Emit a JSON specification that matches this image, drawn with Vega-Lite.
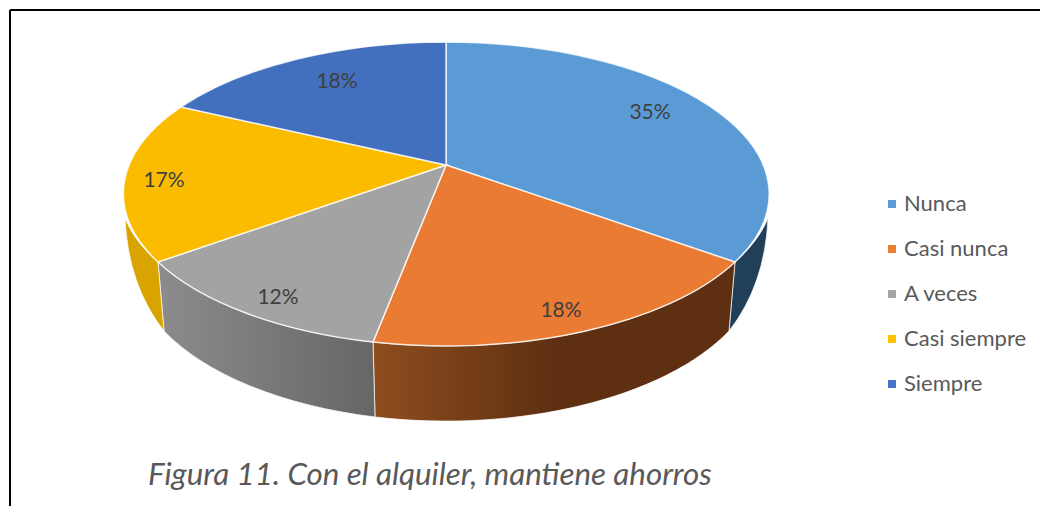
{
  "$schema": "https://vega.github.io/schema/vega-lite/v6.json",
  "description": "Perspective pie. Vega-Lite arcs are circular only, so the elliptical wedges and side walls are hand-drawn symbol paths (one per category) around the shared apex at datum (0,0).",
  "width": 1030,
  "height": 496,
  "autosize": "none",
  "padding": {"left": 10, "top": 10, "right": 0, "bottom": 0},
  "background": "#ffffff",
  "config": {"view": {"stroke": null}, "font": "Lato"},
  "title": {
    "text": "Figura 11. Con el alquiler, mantiene ahorros",
    "orient": "top", "anchor": "start", "frame": "group",
    "dx": 138, "dy": 482, "offset": 0,
    "font": "Lato", "fontSize": 31.3, "fontStyle": "italic", "fontWeight": "normal", "color": "#595959"
  },
  "data": {"values": [
    {"Categoria": "Nunca", "valor": 0.35},
    {"Categoria": "Casi nunca", "valor": 0.18},
    {"Categoria": "A veces", "valor": 0.12},
    {"Categoria": "Casi siempre", "valor": 0.17},
    {"Categoria": "Siempre", "valor": 0.18}
  ]},
  "encoding": {
    "x": {"datum": 0, "type": "quantitative", "scale": {"domain": [-436, 594]}, "axis": null},
    "y": {"datum": 0, "type": "quantitative", "scale": {"domain": [-341, 155]}, "axis": null}
  },
  "resolve": {"scale": {"color": "independent", "shape": "independent"}, "legend": {"color": "independent", "shape": "independent"}},
  "layer": [
    {
      "data": {"values": [{"borde": "izquierdo"}]},
      "mark": {"type": "rule", "color": "#000000", "strokeWidth": 2},
      "encoding": {"x": {"value": 0}, "y": {"value": 0}, "y2": {"value": 496}}
    },
    {
      "data": {"values": [{"borde": "superior"}]},
      "mark": {"type": "rule", "color": "#000000", "strokeWidth": 2},
      "encoding": {"x": {"value": 0}, "x2": {"value": 1030}, "y": {"value": 0}}
    },
    {
      "transform": [{"filter": "datum.Categoria === 'Nunca'"}],
      "mark": {"type": "point", "filled": true, "opacity": 1, "size": 4, "fill": "#223F59", "stroke": "#ffffff", "strokeWidth": 1, "strokeOpacity": 0.7,
        "shape": "M322,53A323.5,152,0,0,1,289,97L283,166Q319,120,322,53Z"}
    },
    {
      "transform": [{"filter": "datum.Categoria === 'Casi nunca'"}],
      "mark": {"type": "point", "filled": true, "opacity": 1, "size": 4, "stroke": "#ffffff", "strokeWidth": 1, "strokeOpacity": 0.7,
        "fill": {"gradient": "linear", "x1": 0, "y1": 0, "x2": 1, "y2": 0, "stops": [
          {"offset": 0, "color": "#8F4D1E"}, {"offset": 0.5, "color": "#5E3011"}, {"offset": 1, "color": "#5E3011"}
        ]},
        "shape": "M289,97A323.5,152,0,0,1,-73,177L-71,252A315,160,0,0,0,283,166Z"}
    },
    {
      "transform": [{"filter": "datum.Categoria === 'A veces'"}],
      "mark": {"type": "point", "filled": true, "opacity": 1, "size": 4, "stroke": "#ffffff", "strokeWidth": 1, "strokeOpacity": 0.7,
        "fill": {"gradient": "linear", "x1": 0, "y1": 0, "x2": 1, "y2": 0, "stops": [
          {"offset": 0, "color": "#8C8C8C"}, {"offset": 1, "color": "#666666"}
        ]},
        "shape": "M-73,177A323.5,152,0,0,1,-288,97L-282,166A315,160,0,0,0,-71,252Z"}
    },
    {
      "transform": [{"filter": "datum.Categoria === 'Casi siempre'"}],
      "mark": {"type": "point", "filled": true, "opacity": 1, "size": 4, "fill": "#D9A400", "stroke": "#ffffff", "strokeWidth": 1, "strokeOpacity": 0.7,
        "shape": "M-288,97A323.5,152,0,0,1,-321,53Q-318,120,-282,166Z"}
    },
    {
      "mark": {"type": "point", "filled": true, "opacity": 1, "size": 4, "stroke": "#ffffff", "strokeWidth": 1.5, "strokeOpacity": 0.8},
      "encoding": {
        "shape": {"field": "Categoria", "type": "nominal", "legend": null, "scale": {
          "domain": ["Nunca", "Casi nunca", "A veces", "Casi siempre", "Siempre"],
          "range": [
            "M0,0L0,-123A323.5,152,0,0,1,289,97Z",
            "M0,0L289,97A323.5,152,0,0,1,-73,177Z",
            "M0,0L-73,177A323.5,152,0,0,1,-288,97Z",
            "M0,0L-288,97A323.5,152,0,0,1,-265,-58Z",
            "M0,0L-265,-58A323.5,152,0,0,1,0,-123Z"
          ]}},
        "color": {"field": "Categoria", "type": "nominal", "legend": null,
          "scale": {
            "domain": ["Nunca", "Casi nunca", "A veces", "Casi siempre", "Siempre"],
            "range": ["#5B9BD5", "#EA7B33", "#A3A3A3", "#FBBC00", "#4270BF"]}}
      }
    },
    {
      "mark": {"type": "square", "size": 0, "filled": true},
      "encoding": {
        "color": {"field": "Categoria", "type": "nominal",
          "scale": {
            "domain": ["Nunca", "Casi nunca", "A veces", "Casi siempre", "Siempre"],
            "range": ["#5B9BD5", "#ED7D31", "#A5A5A5", "#FFC000", "#4472C4"]},
          "legend": {
            "title": null, "orient": "none", "legendX": 871, "legendY": 183,
            "symbolType": "square", "symbolSize": 64, "symbolStrokeWidth": 0, "symbolOpacity": 1,
            "labelFont": "Lato", "labelFontSize": 22, "labelColor": "#595959", "labelOffset": 1,
            "rowPadding": 23, "labelLimit": 200
          }}
      }
    },
    {
      "mark": {"type": "text", "font": "Lato", "fontSize": 21, "color": "#404040", "align": "center", "baseline": "middle",
        "dx": {"expr": "{'Nunca':204,'Casi nunca':115,'A veces':-168,'Casi siempre':-282,'Siempre':-109}[datum.Categoria]"},
        "dy": {"expr": "{'Nunca':-52,'Casi nunca':146,'A veces':133,'Casi siempre':16,'Siempre':-83}[datum.Categoria]"}},
      "encoding": {"text": {"field": "valor", "type": "quantitative", "format": ".0%"}}
    }
  ]
}
